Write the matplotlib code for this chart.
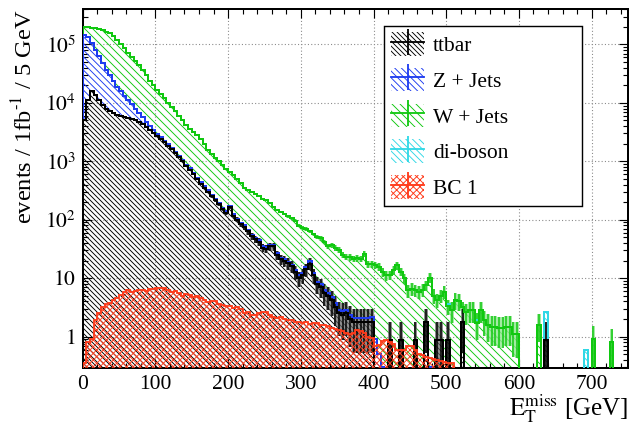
import numpy as np
import matplotlib.pyplot as plt
from matplotlib.patches import Patch
from matplotlib.lines import Line2D
from matplotlib.legend_handler import HandlerTuple
from matplotlib.ticker import MultipleLocator, LogLocator, FixedLocator, FuncFormatter, NullFormatter

plt.rcParams['font.family'] = ['Liberation Serif', 'DejaVu Serif']
plt.rcParams['mathtext.fontset'] = 'stix'
plt.rcParams['hatch.linewidth'] = 0.55

# --- MET distribution, 5 GeV bins from 0 to 750 GeV (events / 1 fb^-1) ---
bin_width = 5

ttbar = [
    5010, 11220, 15850, 13490, 11220, 9120, 7940, 7240, 6610, 6310,
    6030, 5750, 5500, 5250, 5010, 4680, 4270, 3800, 3390, 3090,
    2750, 2450, 2140, 1860, 1620, 1380, 1175, 1000, 832, 724,
    603, 501, 417, 355, 302, 251, 214, 186, 151, 132,
    166, 117, 100, 83, 76, 63, 52, 46, 42, 33,
    32, 35, 35, 25, 21, 20, 18, 16, 12.6, 10,
    11.2, 14.1, 17.8, 11.2, 7.9, 7.1, 5.6, 5.0, 4.2, 3.2,
    2.5, 2.3, 2.5, 2.0, 1.76, 1.76, 1.76, 1.76, 1.76, 1.76,
    0, 0, 0, 0, 0.88, 0, 0, 0.88, 0, 0,
    0, 0.88, 0, 0, 1.76, 0, 0, 0.88, 0.88, 0,
    0.88, 0, 0, 0, 1.76, 0, 0, 0, 0, 0,
    0, 0, 0, 0, 0, 0, 0, 0, 0, 0,
    0, 0, 0, 0, 0, 0, 0, 0.88, 0, 0,
    0, 0, 0, 0, 0, 0, 0, 0, 0, 0,
    0, 0, 0, 0, 0, 0, 0, 0, 0, 0,
]

zjets = [
    139500, 120600, 91300, 65900, 51900, 38700, 29200, 23000, 17400, 12700,
    9800, 7400, 5700, 4300, 2900, 2100, 1360, 980, 590, 300,
    200, 115, 100, 88, 80, 70, 60, 50, 42, 36,
    30, 25, 21, 18, 15, 13, 11, 9, 8, 7,
    8, 6, 5, 4.5, 4, 3.5, 3, 2.6, 2.4, 2,
    2, 2, 2, 1.6, 1.4, 1.3, 1.2, 1.1, 1.0, 1.2,
    0.9, 1.5, 1.8, 1.0, 0.8, 0.7, 0.6, 0.5, 0.5, 0.5,
    0.4, 0.4, 0.4, 0.3, 0.3, 0.3, 0.3, 0.3, 0.3, 0.4,
    0.9, 0.5, 0.3, 0, 0, 0, 0, 0, 0, 0,
    0, 0, 0, 0, 0, 0.3, 0, 0, 0, 0,
    0, 0, 0, 0, 0, 0, 0, 0, 0, 0,
    0, 0, 0, 0, 0, 0, 0, 0, 0, 0,
    0, 0, 0, 0, 0, 0, 0, 0, 0, 0,
    0, 0, 0, 0, 0, 0, 0, 0, 0, 0,
    0, 0, 0, 0, 0, 0, 0, 0, 0, 0,
]

wjets = [
    55000, 67700, 87800, 111100, 123100, 130000, 128800, 124700, 114000, 98400,
    84200, 73900, 61200, 52100, 44500, 37900, 31500, 25400, 20000, 16600,
    14000, 11900, 9800, 8050, 6800, 5800, 4790, 4080, 3390, 2870,
    2530, 2290, 2020, 1620, 1270, 1050, 920, 805, 710, 600,
    485, 450, 396, 330, 275, 257, 240, 226, 207, 194,
    180, 158, 129, 121, 113, 105, 96, 88, 82, 68,
    60, 54, 43.5, 44, 41.4, 40, 35.5, 30, 31.6, 29.4,
    27.3, 22.4, 20, 20.6, 19.3, 19.8, 19.3, 24.2, 15.4, 15.2,
    15.7, 15, 12.6, 11.2, 10.3, 13.8, 16.6, 12, 10, 6.2,
    6.6, 5.4, 5.9, 6.3, 5.8, 9.8, 5.0, 3.3, 4.1, 5.9,
    2.4, 2.8, 4.2, 4.0, 1.4, 2.6, 2.8, 2.8, 1.7, 2.8,
    1.9, 1.6, 1.45, 1.45, 1.38, 1.38, 1.45, 1.45, 1.12, 1.1,
    0, 0, 0, 0, 0, 1.6, 0, 0, 0, 0,
    0, 0, 0, 0, 0, 0, 0, 0, 0, 0,
    0.9, 0, 0, 0, 0, 0.8, 0, 0, 0, 0,
]

diboson = [0] * 150
diboson[79] = 0.4
diboson[100] = 0.3
diboson[108] = 0.2
diboson[127] = 1.8
diboson[138] = 0.6

bc1 = [
    0.35, 0.8, 0.9, 1.9, 2.5, 3.2, 3.6, 3.7, 4.2, 4.6,
    5.2, 5.8, 6.2, 5.8, 6.0, 6.2, 6.3, 6.0, 6.4, 6.6,
    6.9, 6.7, 6.8, 6.3, 5.8, 6.0, 5.5, 5.0, 5.4, 5.2,
    4.8, 4.9, 4.5, 4.3, 3.9, 4.0, 4.1, 3.6, 3.5, 3.4,
    3.3, 3.1, 3.2, 3.0, 2.5, 2.6, 2.3, 2.3, 2.5, 2.6,
    2.6, 2.3, 2.2, 2.1, 2.2, 2.0, 1.9, 1.9, 1.8, 1.75,
    1.7, 1.75, 1.65, 1.7, 1.7, 1.6, 1.55, 1.5, 1.4, 1.35,
    1.3, 1.25, 1.15, 1.1, 1.15, 1.3, 1.25, 1.15, 1.0, 0.95,
    0.7, 0.72, 0.85, 0.88, 0.8, 0.75, 0.6, 0.58, 0.6, 0.7,
    0.68, 0.6, 0.5, 0.48, 0.45, 0.43, 0.42, 0.4, 0.38, 0.37,
    0.36, 0.35, 0, 0, 0, 0, 0, 0, 0, 0,
    0, 0, 0, 0, 0, 0, 0, 0, 0, 0,
    0, 0, 0, 0, 0, 0, 0, 0, 0, 0,
    0, 0, 0, 0, 0, 0, 0, 0, 0, 0,
    0, 0, 0, 0, 0, 0, 0, 0, 0, 0,
]

labels = ["ttbar", "Z + Jets", "W + Jets", "di-boson", "BC 1"]
colors = ["#000000", "#1e3cf0", "#10c810", "#30d8e6", "#ff3a1a"]
bs = chr(92)  # backslash hatch
hatches = [bs * 8, bs * 6, bs * 5, bs * 6, "x" * 6]
y_decades = [1, 10, 100, 1000, 10000, 100000]

tt = np.array(ttbar, float)
zj = np.array(zjets, float)
wj = np.array(wjets, float)
db = np.array(diboson, float)
sig = np.array(bc1, float)
edges = np.arange(len(tt) + 1) * bin_width
centers = edges[:-1] + bin_width / 2
floor = 1e-3

# cumulative stack: ttbar, Z, W, di-boson
c1 = tt
c2 = c1 + zj
c3 = c2 + wj
c4 = c3 + db
levels = [c1, c2, c3, c4]
lows = [np.full_like(c1, floor), c1, c2, c3]

# dpi 120 -> hatch cell of 120 px: 8 strokes = 5 px, 5 strokes = 8 px spacing
DPI = 120
fig = plt.figure(figsize=(629 / DPI, 423 / DPI), dpi=DPI)
ax = fig.add_axes([82.7 / 629, 1 - 368 / 423, 545.3 / 629, 358.7 / 423])
ax.set_yscale('log')

# hatched bands
for lo, hi, c, h in zip(lows, levels, colors[:4], hatches[:4]):
    ax.stairs(hi, edges, baseline=lo, fill=True, facecolor='none',
              edgecolor=c, hatch=h, linewidth=0, zorder=1)

# stat. errors on W and ttbar
err_w = np.sqrt(0.4 * wj)
m = wj > 0
ax.bar(centers[m], 2 * err_w[m], bottom=np.maximum(c3[m] - err_w[m], floor),
       width=bin_width, color='#8ce68c', alpha=0.8, linewidth=0, zorder=2)
ax.vlines(centers[m], np.maximum(c3[m] - err_w[m], floor), c3[m] + err_w[m],
          color=colors[2], lw=0.9, zorder=2.5)

err_t = np.sqrt(0.88 * tt)
m = tt > 0
ax.bar(centers[m], 2 * err_t[m], bottom=np.maximum(c1[m] - err_t[m], floor),
       width=bin_width, color='#606060', alpha=0.7, linewidth=0, zorder=2)
ax.vlines(centers[m], np.maximum(c1[m] - err_t[m], floor), c1[m] + err_t[m],
          color='black', lw=0.9, zorder=2.5)

# outlines, top of stack first
for lvl, c in zip([c4, c3, c2, c1], [colors[3], colors[2], colors[1], colors[0]]):
    ax.stairs(lvl, edges, color=c, lw=1.2, zorder=3)

# signal
ax.stairs(sig, edges, baseline=floor, fill=True, facecolor='none',
          edgecolor=colors[4], hatch=hatches[4], linewidth=0, zorder=3.5)
ax.stairs(sig, edges, color=colors[4], lw=1.1, zorder=3.6)

ax.set_xlim(0, 750)
ax.set_ylim(0.29, 4e5)

ax.xaxis.set_major_locator(MultipleLocator(100))
ax.xaxis.set_minor_locator(MultipleLocator(20))
ax.yaxis.set_major_locator(FixedLocator(y_decades))
ax.yaxis.set_minor_locator(LogLocator(base=10, subs=np.arange(2, 10), numticks=20))
ax.yaxis.set_minor_formatter(NullFormatter())


def ylab(v, pos):
    e = int(round(np.log10(v)))
    if e == 0:
        return r'$1$'
    if e == 1:
        return r'$10$'
    return r'$10^{%d}$' % e


ax.yaxis.set_major_formatter(FuncFormatter(ylab))
ax.tick_params(which='both', direction='in', top=True, right=True, width=0.68)
ax.tick_params(which='major', length=5.4, labelsize=12.9, pad=4)
ax.tick_params(which='minor', length=3.0)
for s in ax.spines.values():
    s.set_linewidth(1.2)

ax.set_axisbelow(True)
ax.grid(True, which='major', linestyle=(0, (1, 2)), color='0.55', lw=0.66)

ax.set_xlabel(r'$\mathrm{E}_{\mathrm{T}}^{\mathrm{miss}}$ [GeV]', fontsize=15,
              loc='right', labelpad=-1)
ax.set_ylabel(r'events / 1fb$^{\text{-1}}$ / 5 GeV', fontsize=14.6, loc='top')
ax.yaxis.set_label_coords(-0.084, 1.0)

handles = []
for c, h in zip(colors, hatches):
    handles.append((Patch(facecolor='none', edgecolor=c, hatch=h, linewidth=0),
                    Line2D([], [], color=c, lw=1.1, marker='|', markersize=15.6,
                           markeredgewidth=1.1)))
leg = ax.legend(handles, labels, handler_map={tuple: HandlerTuple(ndivide=1, pad=0)},
                numpoints=1, fontsize=12.9, loc='upper left',
                bbox_to_anchor=(0.553, 0.954, 0.362, 0), mode='expand',
                borderaxespad=0, borderpad=0.3, labelspacing=0.55,
                handlelength=1.57, handleheight=1.3, handletextpad=0.4,
                fancybox=False, framealpha=1, edgecolor='black')
leg.get_frame().set_linewidth(0.85)
leg.set_zorder(10)

fig.savefig('out.png', dpi=DPI)
